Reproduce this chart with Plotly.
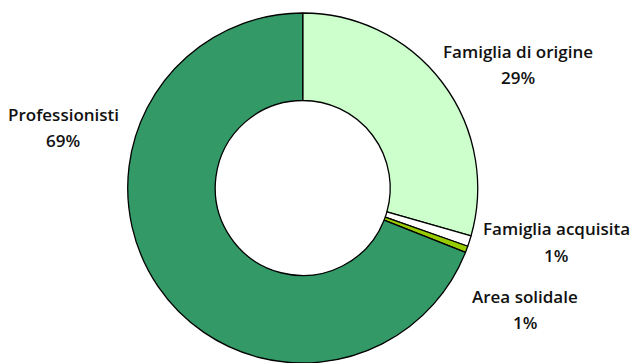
import plotly.graph_objects as go

# Share of support by source
categories = ["Famiglia di origine", "Famiglia acquisita", "Area solidale", "Professionisti"]
values = [29.4, 1.0, 0.6, 69.0]
colors = ["#CCFFCC", "#FFFFFF", "#99CC00", "#339966"]

# Label placement (pixel centres of name line) for each slice
label_px = [(518, 40), (556, 224), (525, 294), (63, 105)]

W, H = 640, 363
total = sum(values)

fig = go.Figure(go.Pie(
    labels=categories,
    values=values,
    hole=0.5,
    sort=False,
    direction="clockwise",
    rotation=0,
    marker=dict(colors=colors, line=dict(color="#000000", width=1.3)),
    textinfo="none",
    hoverinfo="label+percent",
    showlegend=False,
    domain=dict(x=[0.198, 0.748], y=[0, 1]),
))

font = dict(family="Open Sans", size=17, color="#111111", weight=600)
for name, v, (px, py) in zip(categories, values, label_px):
    fig.add_annotation(x=px / W, y=1 - py / H, xref="paper", yref="paper",
                       text=name, showarrow=False, font=font,
                       xanchor="center", yanchor="middle")
    fig.add_annotation(x=px / W, y=1 - (py + 27) / H, xref="paper", yref="paper",
                       text=f"{round(v / total * 100):.0f}%", showarrow=False, font=font,
                       xanchor="center", yanchor="middle")

fig.update_layout(
    width=W, height=H,
    margin=dict(l=0, r=0, t=13, b=0),
    paper_bgcolor="white", plot_bgcolor="white",
)

fig.write_html("out.html")
